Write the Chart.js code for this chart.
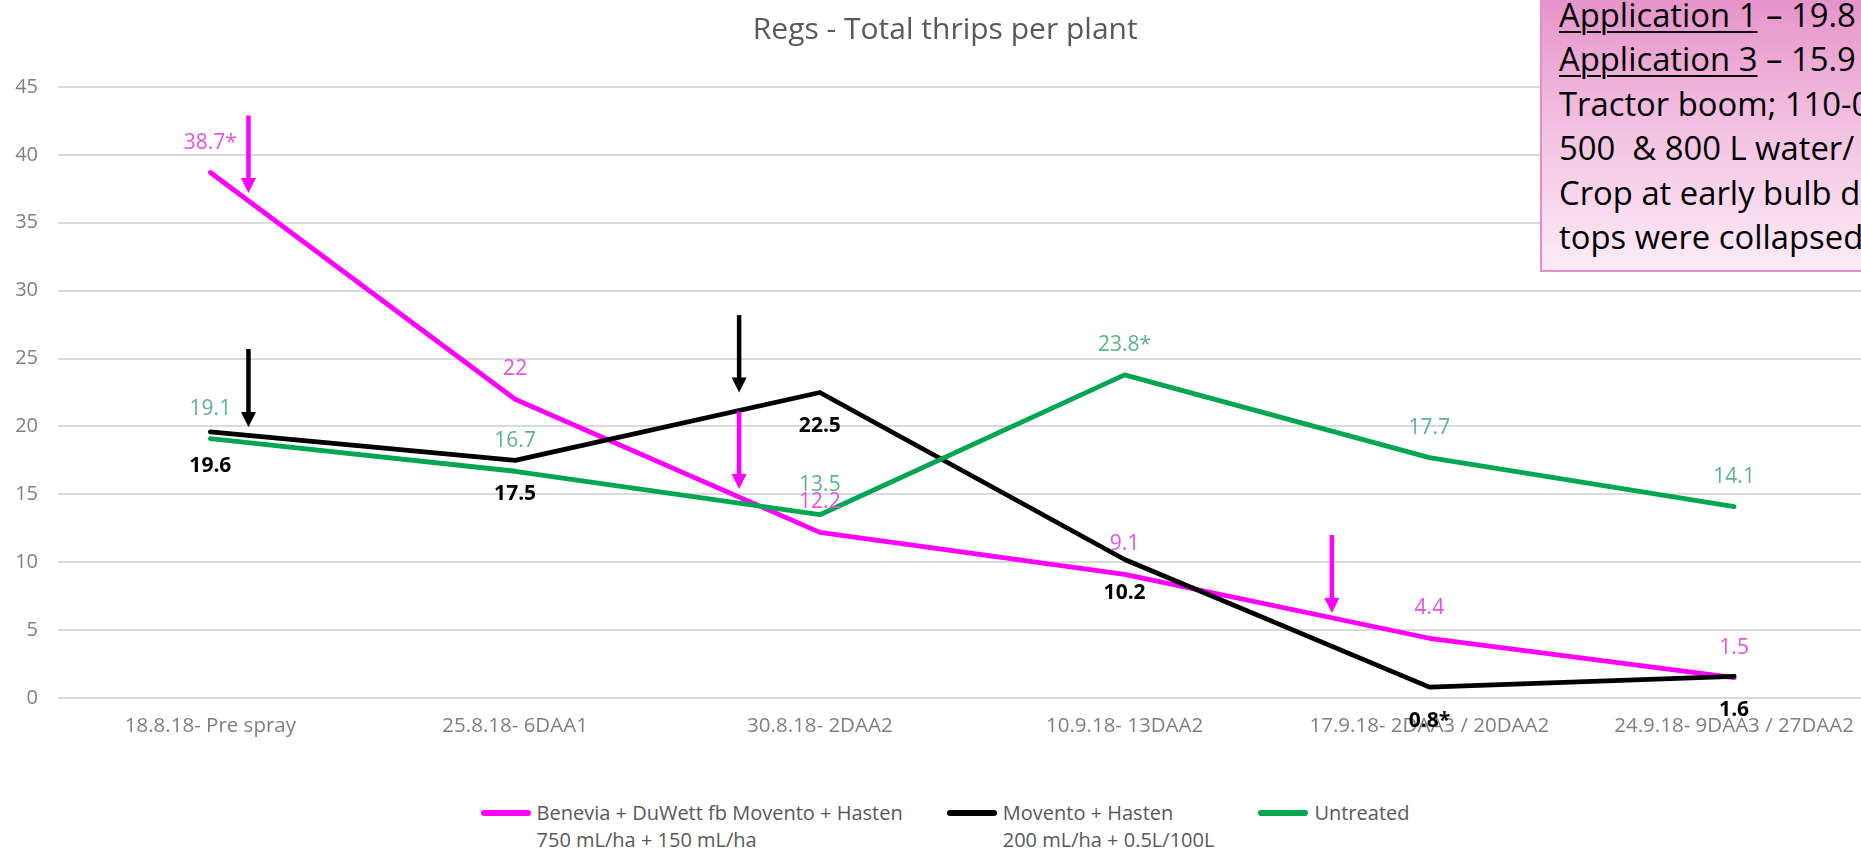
<!DOCTYPE html>
<html>
<head>
<meta charset="utf-8">
<script src="https://cdn.jsdelivr.net/npm/chart.js@4.4.1/dist/chart.umd.min.js"></script>
<style>
html,body{margin:0;padding:0;background:#fff;overflow:hidden;width:1861px;height:851px;}
#wrap{position:relative;width:1861px;height:851px;overflow:hidden;}
#chart{position:absolute;left:0;top:0;}
#note{position:absolute;left:1540px;top:-12px;width:420px;height:284px;box-sizing:border-box;
  border:2px solid #e48fc6;background:linear-gradient(to bottom,#e590c9 0%,#f3c2e2 50%,#fdebf7 100%);
  font-family:'Open Sans',sans-serif;font-size:32.8px;line-height:44.4px;color:#000;
  padding:3px 0 0 17px;white-space:pre;}
#note u{text-decoration-thickness:2px;text-underline-offset:4px;}
#legend{position:absolute;top:799px;left:0;width:1890px;display:flex;justify-content:center;
  font-family:'Open Sans',sans-serif;font-size:20px;line-height:27px;color:#595959;}
.item{display:flex;align-items:flex-start;margin:0 22px;}
.sw{width:50px;height:6px;border-radius:3px;margin-top:10.5px;margin-right:6px;}
</style>
</head>
<body>
<div id="wrap">
  <canvas id="chart" width="1890" height="740"></canvas>
  <div id="note"><u>Application 1</u> – 19.8
<u>Application 3</u> – 15.9
Tractor boom; 110-0
500  &amp; 800 L water/
Crop at early bulb de
tops were collapsed</div>
  <div id="legend"></div>
</div>
<script>
// ---- data ----
const categories = ["18.8.18- Pre spray","25.8.18- 6DAA1","30.8.18- 2DAA2","10.9.18- 13DAA2","17.9.18- 2DAA3 / 20DAA2","24.9.18- 9DAA3 / 27DAA2"];
const seriesNames = ["Benevia + DuWett fb Movento + Hasten","Movento + Hasten","Untreated"];
const seriesRates = ["750 mL/ha + 150 mL/ha","200 mL/ha + 0.5L/100L",""];
const benevia = [38.7,22,12.2,9.1,4.4,1.5];
const movento = [19.6,17.5,22.5,10.2,0.8,1.6];
const untreated = [19.1,16.7,13.5,23.8,17.7,14.1];
const beneviaLabels = ["38.7*","22","12.2","9.1","4.4","1.5"];
const moventoLabels = ["19.6","17.5","22.5","10.2","0.8*","1.6"];
const untreatedLabels = ["19.1","16.7","13.5","23.8*","17.7","14.1"];
const yMin = 0, yMax = 45, yStep = 5;
const chartTitle = "Regs - Total thrips per plant";
// application arrows: category position (fractional index), start value, tip value, series index
const arrowX = [0.125,0.125,1.735,1.735,3.68];
const arrowFrom = [42.9,25.7,28.2,21.1,12.0];
const arrowTo = [37.2,19.95,22.5,15.4,6.26];
const arrowSeries = [0,1,1,0,0];

// ---- styles ----
const lineColors = ["#ff00ff","#000000","#00a651"];
const labelColors = ["#e552e5","#000000","#5cb38d"];
const labelBold = [false,true,false];
const labelBelow = [false,true,false];
const seriesData = [benevia,movento,untreated];
const seriesLabels = [beneviaLabels,moventoLabels,untreatedLabels];

const legend = document.getElementById('legend');
seriesNames.forEach((n,i)=>{
  const it = document.createElement('div'); it.className='item';
  const sw = document.createElement('div'); sw.className='sw'; sw.style.background=lineColors[i];
  const tx = document.createElement('div');
  tx.innerHTML = n + (seriesRates[i] ? '<br>' + seriesRates[i] : '');
  it.appendChild(sw); it.appendChild(tx); legend.appendChild(it);
});

const labelPlugin = {
  id:'valueLabels',
  afterDatasetsDraw(chart){
    const ctx = chart.ctx;
    ctx.save();
    ctx.textAlign='center'; ctx.textBaseline='middle';
    chart.data.datasets.forEach((ds,di)=>{
      const meta = chart.getDatasetMeta(di);
      ctx.fillStyle = labelColors[di];
      ctx.font = (labelBold[di] ? 'bold ' : '') + '21px "Open Sans"';
      meta.data.forEach((pt,i)=>{
        const dy = labelBelow[di] ? 34 : -30;
        ctx.fillText(seriesLabels[di][i], pt.x, pt.y + dy);
      });
    });
    // arrows
    const xs = chart.scales.x, ys = chart.scales.y;
    arrowX.forEach((ax,i)=>{
      const x = xs.getPixelForValue(ax);
      const y0 = ys.getPixelForValue(arrowFrom[i]);
      const y1 = ys.getPixelForValue(arrowTo[i]);
      const col = lineColors[arrowSeries[i]];
      const head = 15, hw = 7.5;
      ctx.strokeStyle = col; ctx.fillStyle = col; ctx.lineWidth = 4.5; ctx.lineCap='butt';
      ctx.beginPath(); ctx.moveTo(x,y0); ctx.lineTo(x,y1-head+1); ctx.stroke();
      ctx.beginPath(); ctx.moveTo(x-hw,y1-head); ctx.lineTo(x+hw,y1-head); ctx.lineTo(x,y1); ctx.closePath(); ctx.fill();
    });
    ctx.restore();
  }
};

function build(){
  Chart.defaults.font.family = "'Open Sans', sans-serif";
  new Chart(document.getElementById('chart'), {
    type:'line',
    data:{
      labels:categories,
      datasets: seriesNames.map((n,i)=>({
        label:n, data:seriesData[i], borderColor:lineColors[i], backgroundColor:lineColors[i],
        borderWidth:4.8, pointRadius:0, tension:0, fill:false,
        borderCapStyle:'round', borderJoinStyle:'round', order: 3-i
      }))
    },
    options:{
      responsive:false, animation:false, devicePixelRatio:1,
      layout:{padding:{left:4, right:3.5, top:0, bottom:0}},
      plugins:{
        legend:{display:false}, tooltip:{enabled:false},
        title:{display:true, text:chartTitle, color:'#595959',
          font:{size:30, weight:'normal'}, padding:{top:12, bottom:39}}
      },
      scales:{
        x:{offset:true, grid:{display:false, drawTicks:false}, border:{display:false},
          afterFit(s){ s.height = 42; },
          ticks:{color:'#7f7f7f', font:{size:20.5}, padding:16, maxRotation:0, autoSkip:false}},
        y:{min:yMin, max:yMax, border:{display:false},
          afterFit(s){ s.width = 54; },
          grid:{color:'#dadada', lineWidth:2, drawTicks:false},
          ticks:{stepSize:yStep, color:'#808080', font:{size:20}, padding:20}}
      }
    },
    plugins:[labelPlugin]
  });
}
if (document.fonts && document.fonts.load) {
  Promise.all([document.fonts.load('19px "Open Sans"'), document.fonts.load('bold 19px "Open Sans"')])
    .then(build, build);
} else build();
</script>
</body>
</html>
